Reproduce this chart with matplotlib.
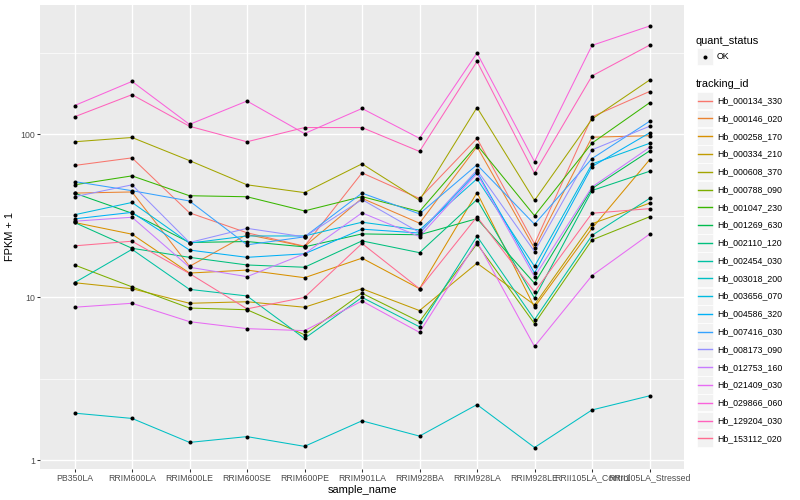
import numpy as np
import matplotlib
matplotlib.use("Agg")
import matplotlib.pyplot as plt
from matplotlib.patches import Rectangle
from matplotlib.lines import Line2D
from matplotlib.ticker import FixedLocator, NullFormatter

plt.rcParams['font.family'] = ['Liberation Sans', 'DejaVu Sans']

samples = ["PB350LA", "RRIM600LA", "RRIM600LE", "RRIM600SE", "RRIM600PE",
           "RRIM901LA", "RRIM928BA", "RRIM928LA", "RRIM928LE",
           "RRII105LA_Control", "RRII105LA_Stressed"]

tracking_ids = ["Hb_000134_330", "Hb_000146_020", "Hb_000258_170", "Hb_000334_210",
                "Hb_000608_370", "Hb_000788_090", "Hb_001047_230", "Hb_001269_630",
                "Hb_002110_120", "Hb_002454_030", "Hb_003018_200", "Hb_003656_070",
                "Hb_004586_320", "Hb_007416_030", "Hb_008173_090", "Hb_012753_160",
                "Hb_021409_030", "Hb_029866_060", "Hb_129204_030", "Hb_153112_020"]

# FPKM + 1 values, one list per tracking_id, in sample order
hb_000134_330 = [64.4, 71.7, 33.0, 24.9, 20.6, 58.0, 40.4, 94.3, 21.3, 128, 183]
hb_000146_020 = [43.6, 44.3, 15.5, 24.3, 20.5, 40.5, 28.5, 84.0, 20.0, 96, 98]
hb_000258_170 = [28.8, 24.4, 14.1, 14.7, 13.2, 17.4, 11.3, 43.9, 8.7, 26.5, 69.7]
hb_000334_210 = [12.3, 11.3, 9.2, 9.4, 8.7, 11.3, 8.3, 16.2, 9.0, 28.3, 37.8]
hb_000608_370 = [90.0, 95.6, 69.0, 49.0, 43.9, 65.9, 39.4, 146, 39.3, 124, 215]
hb_000788_090 = [15.8, 11.6, 8.6, 8.4, 5.9, 10.6, 7.1, 21.3, 6.9, 22.5, 31.2]
hb_001047_230 = [49.0, 55.6, 42.0, 41.4, 33.9, 41.5, 33.6, 86.0, 31.7, 88.3, 156]
hb_001269_630 = [43.6, 32.8, 21.7, 22.0, 20.4, 24.5, 24.2, 30.4, 12.2, 46.5, 79]
hb_002110_120 = [28.8, 20.0, 17.6, 15.8, 15.3, 22.2, 18.8, 39.8, 9.9, 45.2, 59.3]
hb_002454_030 = [12.3, 19.7, 11.2, 10.2, 5.6, 10.0, 6.6, 23.7, 7.3, 24.0, 40.4]
hb_003018_200 = [1.95, 1.81, 1.29, 1.40, 1.22, 1.75, 1.41, 2.20, 1.20, 2.04, 2.49]
hb_003656_070 = [32.1, 38.2, 21.5, 23.8, 23.8, 28.9, 25.9, 53.3, 15.5, 65.8, 88]
hb_004586_320 = [30.3, 33.2, 19.5, 17.6, 18.5, 26.2, 24.8, 58.8, 14.1, 63.4, 102]
hb_007416_030 = [51.3, 45.1, 39.0, 21.0, 23.5, 43.6, 32.5, 65.0, 28.1, 71.0, 120]
hb_008173_090 = [41.4, 49.0, 21.7, 26.5, 23.5, 39.8, 25.0, 60.3, 19.1, 80.3, 112]
hb_012753_160 = [29.3, 31.0, 15.3, 13.4, 18.5, 33.0, 23.6, 57.5, 13.4, 47.5, 83]
hb_021409_030 = [8.7, 9.2, 7.1, 6.43, 6.25, 9.5, 6.1, 22.0, 5.0, 13.6, 24.4]
hb_029866_060 = [150, 211, 115, 160, 101, 144, 94.5, 315, 68.0, 351, 461]
hb_129204_030 = [128, 175, 112, 90, 110, 110, 78.5, 280, 57.6, 228, 352]
hb_153112_020 = [20.7, 22.1, 14.0, 8.5, 10.0, 21.4, 11.3, 31.2, 10.8, 32.8, 35]

series = [hb_000134_330, hb_000146_020, hb_000258_170, hb_000334_210, hb_000608_370,
          hb_000788_090, hb_001047_230, hb_001269_630, hb_002110_120, hb_002454_030,
          hb_003018_200, hb_003656_070, hb_004586_320, hb_007416_030, hb_008173_090,
          hb_012753_160, hb_021409_030, hb_029866_060, hb_129204_030, hb_153112_020]

palette = ["#F8766D", "#EA8331", "#D89000", "#C09B00", "#A3A500", "#7CAE00", "#39B600",
           "#00BB4E", "#00BF7D", "#00C1A3", "#00BFC4", "#00BAE0", "#00B0F6", "#35A2FF",
           "#9590FF", "#C77CFF", "#E76BF3", "#FA62DB", "#FF62BC", "#FF6C91"]

W, H = 800, 500
fig = plt.figure(figsize=(8, 5), dpi=100)
fig.patch.set_facecolor('white')
L, R, T, B = 40, 684, 5, 468.6
ax = fig.add_axes([L / W, 1 - B / H, (R - L) / W, (B - T) / H])
ax.set_facecolor('#EBEBEB')
for s in ax.spines.values():
    s.set_visible(False)

x = np.arange(len(samples))
for vals, col in zip(series, palette):
    ax.plot(x, vals, color=col, lw=0.75, zorder=2, solid_capstyle='butt')
for vals in series:
    ax.plot(x, vals, ls='none', marker='o', ms=2.9, mfc='black', mec='black',
            mew=0, zorder=3)

ax.set_yscale('log')
allv = np.log10(np.concatenate([np.array(v, float) for v in series]))
lo, hi = allv.min(), allv.max()
pad = 0.05 * (hi - lo)
ax.set_ylim(10 ** (lo - pad), 10 ** (hi + pad))
ax.set_xlim(-0.6, len(samples) - 0.4)

ax.yaxis.set_major_locator(FixedLocator([1, 10, 100]))
ax.set_yticklabels(['1', '10', '100'])
ax.yaxis.set_minor_locator(FixedLocator([10 ** 0.5, 10 ** 1.5, 10 ** 2.5]))
ax.yaxis.set_minor_formatter(NullFormatter())
ax.set_xticks(x)
ax.set_xticklabels(samples)

ax.set_axisbelow(True)
ax.grid(which='major', color='white', lw=1.0)
ax.grid(which='minor', axis='y', color='white', lw=0.5)
ax.tick_params(which='major', length=2.0, width=0.75, color='#333333',
               labelsize=6.3, labelcolor='#4D4D4D', pad=1.6)
ax.tick_params(which='minor', length=0)

ax.set_xlabel('sample_name', fontsize=7.9, labelpad=2)
ax.set_ylabel('FPKM + 1', fontsize=7.9, labelpad=4)


def fx(px):
    return px / W


def fy(py):
    return 1 - py / H


# legend: quant_status
fig.text(fx(696), fy(40.7), 'quant_status', fontsize=7.9, va='center', ha='left')
kx0, kx1, kh = 697, 713, 17.3
fig.patches.append(Rectangle((fx(kx0), fy(56.7 + kh / 2)), (kx1 - kx0) / W, kh / H,
                             transform=fig.transFigure, facecolor='#F2F2F2',
                             edgecolor='white', lw=0.5, zorder=1))
fig.lines.append(Line2D([fx((kx0 + kx1) / 2)], [fy(56.7)], transform=fig.transFigure,
                        marker='o', ms=2.9, mfc='black', mec='black', mew=0, ls='none',
                        zorder=5))
fig.text(fx(717), fy(56.7), 'OK', fontsize=6.3, va='center', ha='left', color='black')

# legend: tracking_id
fig.text(fx(696), fy(84), 'tracking_id', fontsize=7.9, va='center', ha='left')
for i, (tid, col) in enumerate(zip(tracking_ids, palette)):
    yc = 100.7 + i * 17.77
    fig.patches.append(Rectangle((fx(kx0), fy(yc + kh / 2)), (kx1 - kx0) / W, kh / H,
                                 transform=fig.transFigure, facecolor='#F2F2F2',
                                 edgecolor='white', lw=0.5, zorder=1))
    fig.lines.append(Line2D([fx(kx0 + 1), fx(kx1 - 1)], [fy(yc), fy(yc)],
                            transform=fig.transFigure, color=col, lw=1.0, zorder=5))
    fig.text(fx(717), fy(yc), tid, fontsize=6.3, va='center', ha='left', color='black')

fig.savefig('out.png', dpi=100)
